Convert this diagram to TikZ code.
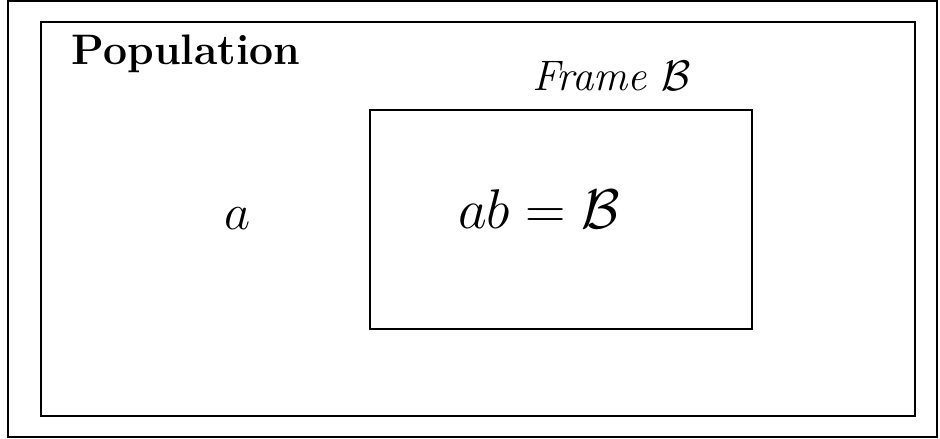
\RequirePackage{fix-cm}
\documentclass[tikz,border=0pt]{standalone}
\usepackage{amsmath}
\begin{document}
\begin{tikzpicture}[x=0.75pt,y=-0.75pt,
  box/.style={draw=black,line width=1.3pt,inner sep=0pt},
  lbl/.style={anchor=base,inner sep=0pt}]
\useasboundingbox (0,0) rectangle (940,439);
\node[box,minimum width=696.75pt,minimum height=327pt] (outer) at (472.5,219.25) {};
\node[box,minimum width=655.5pt,minimum height=295.5pt] (pop box) at (478,219) {};
\node[box,minimum width=286.5pt,minimum height=164.25pt] (frame) at (561,219.5) {};
\node[lbl] (pop) at (186,64) {\fontsize{32}{38}\selectfont\bfseries Population};
\node[lbl] (frl) at (612,90) {\fontsize{32}{38}\selectfont\itshape Frame $\mathcal{B}$};
\node[lbl] (a) at (238,229) {\fontsize{38}{44}\selectfont $a$};
\node[lbl] (ab) at (539,228) {\fontsize{42}{48}\selectfont $ab=\mathcal{B}$};
\end{tikzpicture}
\end{document}
